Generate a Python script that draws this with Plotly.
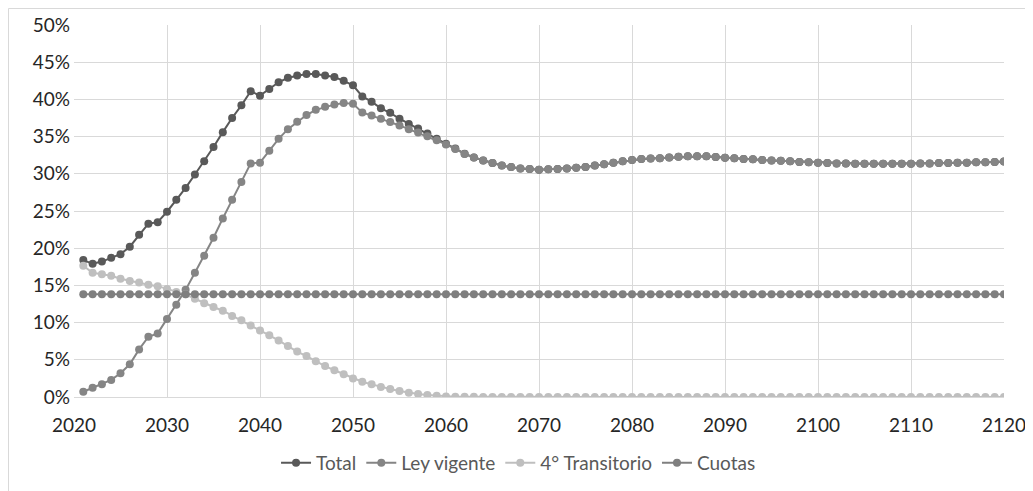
import plotly.graph_objects as go

years = list(range(2021, 2121))

total = [
    18.4, 17.9, 18.2, 18.7, 19.2, 20.2, 21.8, 23.3, 23.5, 24.9,
    26.5, 28.1, 29.9, 31.7, 33.6, 35.6, 37.5, 39.2, 41.1, 40.5,
    41.4, 42.3, 42.9, 43.2, 43.4, 43.4, 43.2, 43.0, 42.5, 41.9,
    40.4, 39.7, 38.8, 38.2, 37.4, 36.7, 36.1, 35.4, 34.7, 34.05,
    33.4, 32.7, 32.2, 31.8, 31.45, 31.1, 30.9, 30.7, 30.65, 30.55,
    30.6, 30.65, 30.7, 30.8, 30.9, 31.1, 31.3, 31.5, 31.7, 31.85,
    32.0, 32.05, 32.1, 32.2, 32.3, 32.35, 32.35, 32.35, 32.25, 32.15,
    32.1, 32.0, 31.95, 31.85, 31.8, 31.75, 31.7, 31.6, 31.55, 31.5,
    31.45, 31.4, 31.4, 31.35, 31.35, 31.35, 31.35, 31.35, 31.35, 31.35,
    31.4, 31.4, 31.45, 31.45, 31.5, 31.5, 31.55, 31.55, 31.6, 31.65,
]

ley_vigente = [
    0.7, 1.25, 1.7, 2.3, 3.2, 4.4, 6.4, 8.1, 8.55, 10.5,
    12.4, 14.4, 16.7, 19.0, 21.4, 24.0, 26.5, 28.9, 31.4, 31.5,
    33.1, 34.7, 36.0, 37.0, 37.9, 38.6, 39.0, 39.3, 39.5, 39.4,
    38.25, 37.85, 37.4, 36.95, 36.5, 36.0, 35.55, 35.05, 34.5, 33.95,
    33.35, 32.67, 32.18, 31.79, 31.45, 31.1, 30.9, 30.7, 30.65, 30.55,
    30.6, 30.65, 30.7, 30.8, 30.9, 31.1, 31.3, 31.5, 31.7, 31.85,
    32.0, 32.05, 32.1, 32.2, 32.3, 32.35, 32.35, 32.35, 32.25, 32.15,
    32.1, 32.0, 31.95, 31.85, 31.8, 31.75, 31.7, 31.6, 31.55, 31.5,
    31.45, 31.4, 31.4, 31.35, 31.35, 31.35, 31.35, 31.35, 31.35, 31.35,
    31.4, 31.4, 31.45, 31.45, 31.5, 31.5, 31.55, 31.55, 31.6, 31.65,
]

transitorio = [
    17.65, 16.7, 16.5, 16.3, 15.9, 15.6, 15.4, 15.1, 14.9, 14.5,
    14.1, 13.8, 13.2, 12.6, 12.1, 11.6, 10.9, 10.3, 9.6, 8.95,
    8.3, 7.6, 6.85, 6.1, 5.5, 4.8, 4.15, 3.6, 3.05, 2.5,
    2.05, 1.7, 1.35, 1.07, 0.8, 0.58, 0.4, 0.27, 0.17, 0.08,
    0.05, 0.03, 0.02, 0.01, 0, 0, 0, 0, 0, 0,
    0, 0, 0, 0, 0, 0, 0, 0, 0, 0,
    0, 0, 0, 0, 0, 0, 0, 0, 0, 0,
    0, 0, 0, 0, 0, 0, 0, 0, 0, 0,
    0, 0, 0, 0, 0, 0, 0, 0, 0, 0,
    0, 0, 0, 0, 0, 0, 0, 0, 0, 0,
]

cuotas = [13.8] * 100

series = [
    ("Total", total, "#595959"),
    ("Ley vigente", ley_vigente, "#858585"),
    ("4° Transitorio", transitorio, "#bfbfbf"),
    ("Cuotas", cuotas, "#7f7f7f"),
]

fig = go.Figure()
for name, vals, color in series:
    fig.add_trace(go.Scatter(
        x=years, y=vals, name=name, mode="lines+markers",
        line=dict(color=color, width=2),
        marker=dict(color=color, size=8),
    ))

font = "Lato, 'Open Sans', sans-serif"

# page body has an 8px margin, so the figure is shifted by 8px
fig.update_layout(
    width=1033, height=491,
    margin=dict(l=66, r=37, t=17, b=102, autoexpand=False),
    paper_bgcolor="white", plot_bgcolor="white",
    font=dict(family=font, size=19, color="#262626"),
    showlegend=True,
    legend=dict(
        orientation="h", x=0.478, xanchor="center", y=-0.177, yanchor="middle",
        font=dict(size=19, color="#595959"), itemwidth=30,
        traceorder="normal",
    ),
    xaxis=dict(
        range=[2020, 2120], dtick=10, tick0=2020,
        showgrid=True, gridcolor="#d9d9d9", gridwidth=1,
        showline=True, linecolor="#d9d9d9", zeroline=False,
        ticks="", ticklabelstandoff=11,
    ),
    yaxis=dict(
        range=[0, 50], dtick=5, ticksuffix="%",
        showgrid=True, gridcolor="#d9d9d9", gridwidth=1,
        zeroline=False, ticks="", ticklabelstandoff=3,
    ),
    shapes=[dict(
        type="rect", xref="paper", yref="paper",
        x0=0.5 / 930 - 66 / 930, x1=1.05, y0=-0.3, y1=(372 + 16.5) / 372,
        line=dict(color="#d9d9d9", width=1), fillcolor="rgba(0,0,0,0)", layer="below",
    )],
)

fig.write_html("out.html")
